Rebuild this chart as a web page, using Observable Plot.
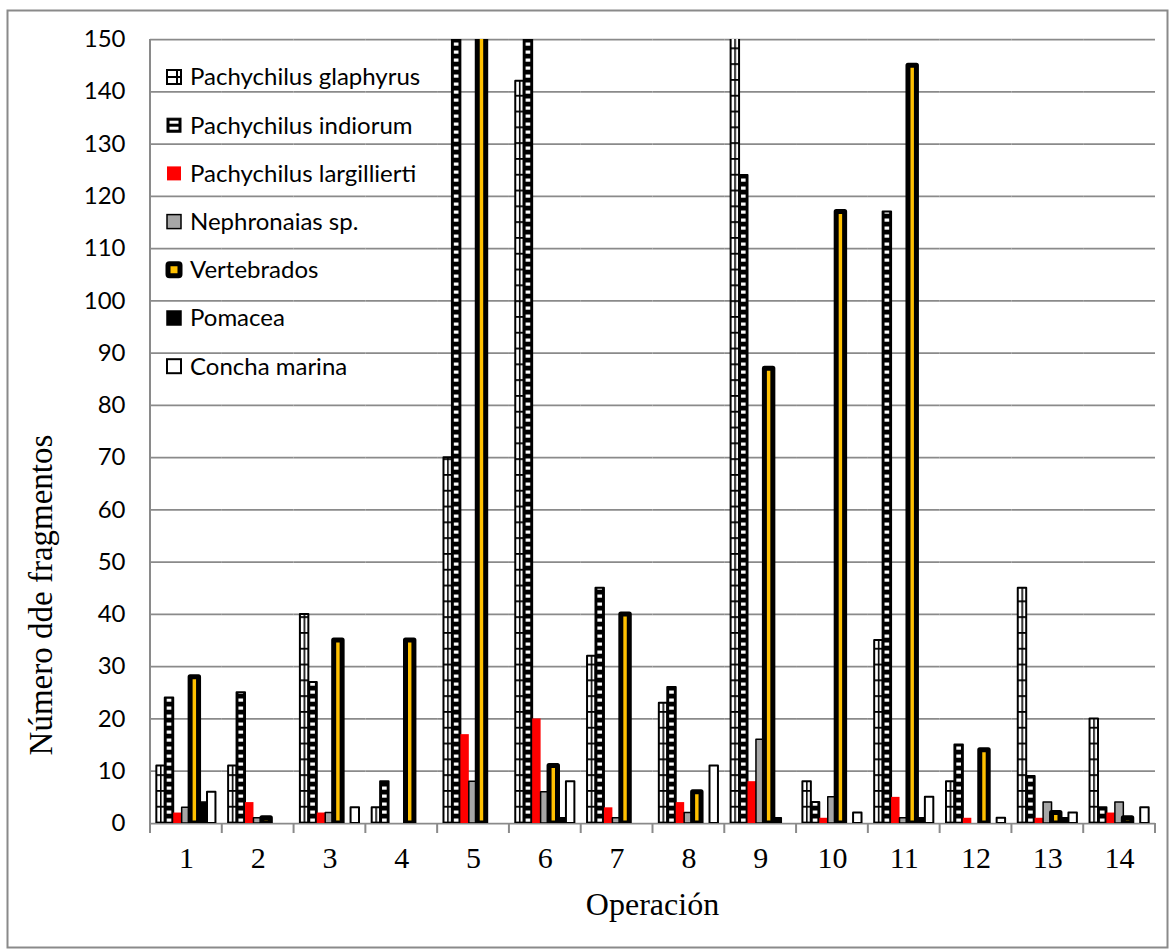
<!DOCTYPE html>
<html><head><meta charset="utf-8">
<script src="https://cdn.jsdelivr.net/npm/d3@7"></script>
<script src="https://cdn.jsdelivr.net/npm/@observablehq/plot@0.6"></script>
<style>
body{margin:0;background:#fff}
#chart{position:relative;width:1170px;height:949px}
</style>
</head><body><div id="chart"></div>
<script>
// ---- data ----
const operations = [1,2,3,4,5,6,7,8,9,10,11,12,13,14];
const seriesNames = ["Pachychilus glaphyrus","Pachychilus indiorum","Pachychilus largillierti","Nephronaias sp.","Vertebrados","Pomacea","Concha marina"];
const glaphyrus    = [11,11,40,3,70,142,32,23,165,8,35,8,45,20];
const indiorum     = [24,25,27,8,175,170,45,26,124,4,117,15,9,3];
const largillierti = [2,4,2,0,17,20,3,4,8,1,5,1,1,2];
const nephronaias  = [3,1,2,0,8,6,1,2,16,5,1,0,4,4];
const vertebrados  = [28,1,35,35,160,11,40,6,87,117,145,14,2,1];
const pomacea      = [4,0,0,0,0,1,0,0,1,0,1,0,1,0];
const concha       = [6,0,3,0,0,8,0,11,0,2,5,1,2,3];
const yTicks = [0,10,20,30,40,50,60,70,80,90,100,110,120,130,140,150];
const yTitle = "Número dde fragmentos";
const xTitle = "Operación";

const seriesValues = [glaphyrus, indiorum, largillierti, nephronaias, vertebrados, pomacea, concha];
const rows = [];
seriesNames.forEach((s, i) => operations.forEach((op, j) => {
  const v = seriesValues[i][j];
  if (v > 0) rows.push({operation: op, series: s, value: v});
}));

// ---- styles ----
const styles = [
  {cls: "s-glaphyrus", fill: "url(#pat-glaphyrus)", stroke: "#000", strokeWidth: 2},
  {cls: "s-indiorum", fill: "#000", stroke: "#000", strokeWidth: 2},
  {cls: "s-largillierti", fill: "#ff0000", stroke: "none", strokeWidth: 0},
  {cls: "s-nephronaias", fill: "#a6a6a6", stroke: "#000", strokeWidth: 1.5},
  {cls: "s-vertebrados", fill: "#ffc000", stroke: "#000", strokeWidth: 5},
  {cls: "s-pomacea", fill: "#000", stroke: "#000", strokeWidth: 1.5},
  {cls: "s-concha", fill: "#fff", stroke: "#000", strokeWidth: 2}
];
const gridColor = "#8a8a8a";
const sansFont = "Lato";
const sansSize = 24;

const barMarks = seriesNames.map((s, i) => Plot.barY(rows.filter(d => d.series === s), {
  fx: "operation", x: "series", y: "value",
  fill: styles[i].fill, stroke: styles[i].stroke, strokeWidth: styles[i].strokeWidth,
  strokeLinejoin: "round", className: styles[i].cls, clip: true
}));

const plot = Plot.plot({
  width: 1170, height: 949,
  marginLeft: 150, marginRight: 15, marginTop: 39, marginBottom: 126,
  style: {background: "transparent", overflow: "visible"},
  fx: {domain: operations, padding: 0, round: false, label: null},
  x: {domain: seriesNames, paddingInner: 0, paddingOuter: 0.75, round: false, axis: null},
  y: {domain: [0, 150], label: null},
  marks: [
    Plot.ruleY(yTicks, {stroke: gridColor, strokeWidth: 1.75}),
    ...barMarks,
    Plot.axisY(yTicks, {tickSize: 0, tickPadding: 25, fontSize: sansSize, fontFamily: sansFont, fill: "#000", label: null}),
    Plot.axisFx({anchor: "bottom", tickSize: 0, tickPadding: 23, fontSize: 30, fontFamily: "Liberation Serif", fill: "#000", label: null})
  ]
});
document.getElementById("chart").appendChild(plot);

const svg = d3.select(plot);
const defs = svg.insert("defs", ":first-child");

// glaphyrus pattern: white with grid lines
const pg = defs.append("pattern").attr("id", "pat-glaphyrus").attr("patternUnits", "userSpaceOnUse")
  .attr("width", 16).attr("height", 15.8);
pg.append("rect").attr("width", 16).attr("height", 15.8).attr("fill", "#fff");
pg.append("line").attr("x1", 0).attr("x2", 16).attr("y1", 0.8).attr("y2", 0.8).attr("stroke", "#000").attr("stroke-width", 2);
pg.append("line").attr("x1", 0.8).attr("x2", 0.8).attr("y1", 0).attr("y2", 15.8).attr("stroke", "#000").attr("stroke-width", 1.6);

// indiorum: per-bar pattern of white dashes centred in each bar
svg.selectAll(".s-indiorum rect").each(function(_, i) {
  const r = d3.select(this);
  const x = +r.attr("x"), w = +r.attr("width");
  const id = "pat-ind-" + i;
  const p = defs.append("pattern").attr("id", id).attr("patternUnits", "userSpaceOnUse")
    .attr("x", x).attr("y", 0).attr("width", w).attr("height", 8);
  p.append("rect").attr("width", w).attr("height", 8).attr("fill", "#000");
  p.append("rect").attr("x", (w - 4.6) / 2).attr("y", 2.5).attr("width", 4.6).attr("height", 3.2).attr("fill", "#fff");
  r.attr("fill", `url(#${id})`);
});

// axis lines and category boundary ticks
const fx = plot.scale("fx");
const y = plot.scale("y");
const y0 = y.apply(0), yTop = y.apply(150);
const deco = svg.append("g");
deco.append("line").attr("x1", fx.range[0]).attr("x2", fx.range[0]).attr("y1", yTop).attr("y2", y0 + 10)
  .attr("stroke", gridColor).attr("stroke-width", 2);
const bounds = operations.map(o => fx.apply(o)).concat([fx.apply(operations[operations.length - 1]) + fx.bandwidth]);
bounds.forEach(b => deco.append("line").attr("x1", b).attr("x2", b).attr("y1", y0).attr("y2", y0 + 10)
  .attr("stroke", gridColor).attr("stroke-width", 2));

// axis titles
svg.append("text").attr("transform", `translate(52,595) rotate(-90)`).attr("text-anchor", "middle")
  .attr("font-family", "Liberation Serif").attr("font-size", 33).attr("fill", "#000").text(yTitle);
svg.append("text").attr("x", (fx.range[0] + fx.range[1]) / 2).attr("y", 915).attr("text-anchor", "middle")
  .attr("font-family", "Liberation Serif").attr("font-size", 32).attr("fill", "#000").text(xTitle);

// outer chart border
svg.append("rect").attr("x", 7.5).attr("y", 10.5).attr("width", 1160).attr("height", 937)
  .attr("fill", "none").attr("stroke", gridColor).attr("stroke-width", 2);

// legend
const leg = svg.append("g").attr("font-family", sansFont).attr("font-size", sansSize).attr("text-anchor", "start");
seriesNames.forEach((s, i) => {
  const cy = 77 + i * 48.2;
  const g = leg.append("g").attr("transform", `translate(167,${cy - 7})`);
  const st = styles[i];
  if (i === 0) {
    g.append("rect").attr("width", 14).attr("height", 14).attr("fill", "#fff").attr("stroke", "#000").attr("stroke-width", 2);
    g.append("line").attr("x1", 0).attr("x2", 14).attr("y1", 7).attr("y2", 7).attr("stroke", "#000").attr("stroke-width", 2);
    g.append("line").attr("x1", 10).attr("x2", 10).attr("y1", 0).attr("y2", 14).attr("stroke", "#000").attr("stroke-width", 2);
  } else if (i === 1) {
    g.append("rect").attr("width", 14).attr("height", 14).attr("fill", "#000").attr("stroke", "#000").attr("stroke-width", 1);
    g.append("rect").attr("x", 2.5).attr("y", 2.5).attr("width", 9).attr("height", 3).attr("fill", "#fff");
    g.append("rect").attr("x", 2.5).attr("y", 8.5).attr("width", 9).attr("height", 3).attr("fill", "#fff");
  } else if (i === 4) {
    g.append("rect").attr("x", 1).attr("y", 1).attr("width", 12).attr("height", 12).attr("rx", 1.5)
      .attr("fill", st.fill).attr("stroke", "#000").attr("stroke-width", 5).attr("stroke-linejoin", "round");
  } else {
    g.append("rect").attr("width", 14).attr("height", 14).attr("fill", st.fill)
      .attr("stroke", st.stroke).attr("stroke-width", st.strokeWidth);
  }
  leg.append("text").attr("x", 190).attr("y", cy).attr("dy", "0.35em").attr("fill", "#000").text(s);
});
</script>
</body></html>
